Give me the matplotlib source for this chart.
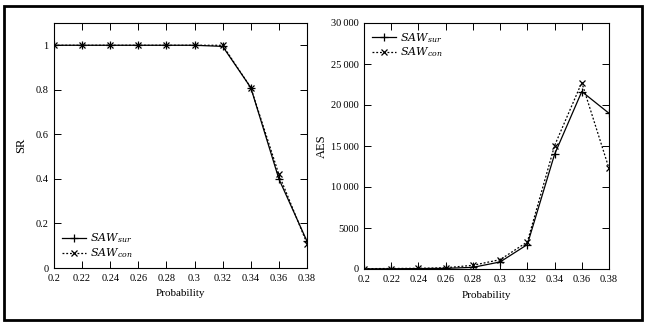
import numpy as np
import matplotlib
matplotlib.use("Agg")
import matplotlib.pyplot as plt
from matplotlib.patches import Rectangle

plt.rcParams['font.family'] = ['Liberation Serif', 'DejaVu Serif']
plt.rcParams['mathtext.fontset'] = 'dejavuserif'

# data
prob = [0.2, 0.22, 0.24, 0.26, 0.28, 0.3, 0.32, 0.34, 0.36, 0.38]
sr_sur = [1, 1, 1, 1, 1, 1, 0.995, 0.81, 0.40, 0.12]
sr_con = [1, 1, 1, 1, 1, 1, 1, 0.81, 0.42, 0.11]
aes_sur = [20, 30, 50, 80, 200, 860, 2980, 13980, 21640, 18990]
aes_con = [40, 60, 80, 150, 450, 1140, 3300, 15040, 22740, 12270]

xtick_labels = ["0.2", "0.22", "0.24", "0.26", "0.28", "0.3", "0.32", "0.34", "0.36", "0.38"]
sr_ticks = [0, 0.2, 0.4, 0.6, 0.8, 1]
sr_tick_labels = ["0", "0.2", "0.4", "0.6", "0.8", "1"]
aes_ticks = [0, 5000, 10000, 15000, 20000, 25000, 30000]
aes_tick_labels = ["0", "5000", "10\u2009000", "15\u2009000", "20\u2009000", "25\u2009000", "30\u2009000"]

fig = plt.figure(figsize=(6.47, 3.24), dpi=100)
ax1 = fig.add_axes([54/647, 1 - 268/324, 253/647, 245/324])
ax2 = fig.add_axes([364/647, 1 - 269/324, 245/647, 246/324])

def style(ax):
    ax.tick_params(direction='in', top=True, right=True, length=5,
                   width=0.7, labelsize=7.5, pad=4)
    for s in ax.spines.values():
        s.set_linewidth(0.8)
    ax.set_xlim(0.2, 0.38)
    ax.set_xticks(prob)
    ax.set_xticklabels(xtick_labels)
    ax.set_xlabel("Probability", fontsize=8, labelpad=5)

ax1.plot(prob, sr_sur, color='black', lw=0.9, marker='+', ms=6, mew=0.9,
         label=r'$SAW_{sur}$')
ax1.plot(prob, sr_con, color='black', lw=0.9, ls=(0, (1.5, 1.5)), marker='x',
         ms=5, mew=0.9, label=r'$SAW_{con}$')
style(ax1)
ax1.set_ylim(0, 1.1)
ax1.set_yticks(sr_ticks)
ax1.set_yticklabels(sr_tick_labels)
ax1.set_ylabel("SR", fontsize=9, labelpad=6)
ax1.legend(loc='lower left', frameon=False, fontsize=8, handlelength=2.2,
           borderaxespad=0.3, labelspacing=0.1, handletextpad=0.3)

ax2.plot(prob, aes_sur, color='black', lw=0.9, marker='+', ms=6, mew=0.9,
         label=r'$SAW_{sur}$')
ax2.plot(prob, aes_con, color='black', lw=0.9, ls=(0, (1.5, 1.5)), marker='x',
         ms=5, mew=0.9, label=r'$SAW_{con}$')
style(ax2)
ax2.set_ylim(0, 30000)
ax2.set_yticks(aes_ticks)
ax2.set_yticklabels(aes_tick_labels)
ax2.set_ylabel("AES", fontsize=9, labelpad=2)
ax2.legend(loc='upper left', frameon=False, fontsize=8, handlelength=2.2,
           borderaxespad=0.3, labelspacing=0.1, handletextpad=0.3)

# frame round the whole figure
fig.patches.append(Rectangle((4/647, 4/324), 638/647, 314/324,
                             transform=fig.transFigure, fill=False,
                             edgecolor='black', lw=2))

fig.savefig("out.png", dpi=100)
